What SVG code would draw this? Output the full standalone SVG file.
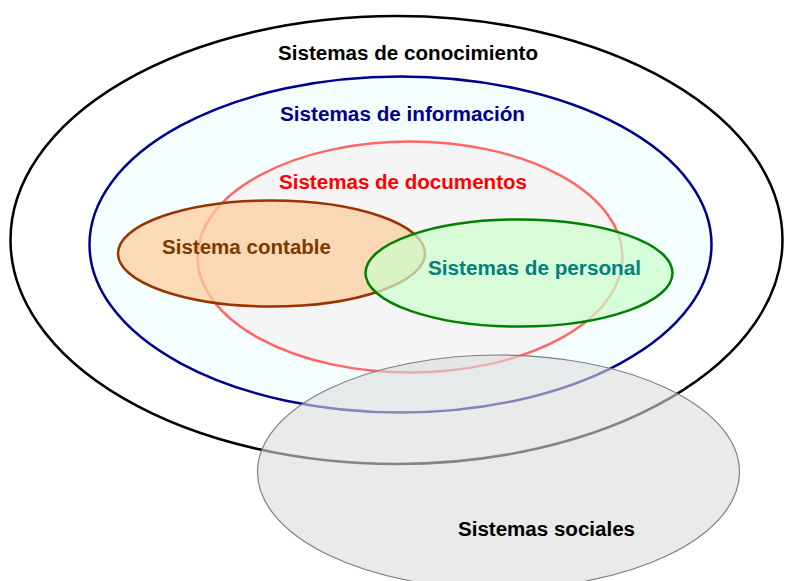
<svg xmlns="http://www.w3.org/2000/svg" width="789" height="581" viewBox="0 0 789 581">
<style>
text{font-family:"Liberation Sans",Arial,sans-serif;font-weight:bold;font-size:20px}
.e{stroke-width:2.5}
</style>
<rect width="789" height="581" fill="#ffffff"/>
<g id="conocimiento">
<ellipse class="e" cx="396.5" cy="240" rx="386" ry="224" fill="#ffffff" stroke="#000000"/>
<text x="278" y="60" fill="#000000" textLength="260" lengthAdjust="spacingAndGlyphs">Sistemas de conocimiento</text>
</g>
<g id="informacion">
<ellipse class="e" cx="400.5" cy="244.5" rx="311" ry="168" fill="#f5feff" stroke="#00008b"/>
<text x="280" y="121" fill="#00008b" textLength="245" lengthAdjust="spacingAndGlyphs">Sistemas de información</text>
</g>
<g id="documentos">
<ellipse class="e" cx="410" cy="257" rx="212.5" ry="115.5" fill="#f5f5f5" stroke="#ff6666"/>
<text x="279" y="189" fill="#ff0000" textLength="248" lengthAdjust="spacingAndGlyphs">Sistemas de documentos</text>
</g>
<g id="contable">
<ellipse class="e" cx="271.5" cy="253.5" rx="153.5" ry="53" fill="#fbcd9f" fill-opacity="0.75" stroke="#993300"/>
<text x="162" y="254" fill="#7a3a00" textLength="169" lengthAdjust="spacingAndGlyphs">Sistema contable</text>
</g>
<g id="personal">
<ellipse class="e" cx="519" cy="273" rx="153.5" ry="53.5" fill="#ccffcc" fill-opacity="0.7" stroke="#008000"/>
<text x="428" y="275" fill="#008080" textLength="213" lengthAdjust="spacingAndGlyphs">Sistemas de personal</text>
</g>
<g id="sociales">
<ellipse cx="498.5" cy="472" rx="241" ry="117" fill="#dcdcdc" fill-opacity="0.6" stroke="#7f7f7f" stroke-width="1.2"/>
<text x="458" y="536" fill="#000000" textLength="177" lengthAdjust="spacingAndGlyphs">Sistemas sociales</text>
</g>
<g id="connectors"></g>
</svg>
